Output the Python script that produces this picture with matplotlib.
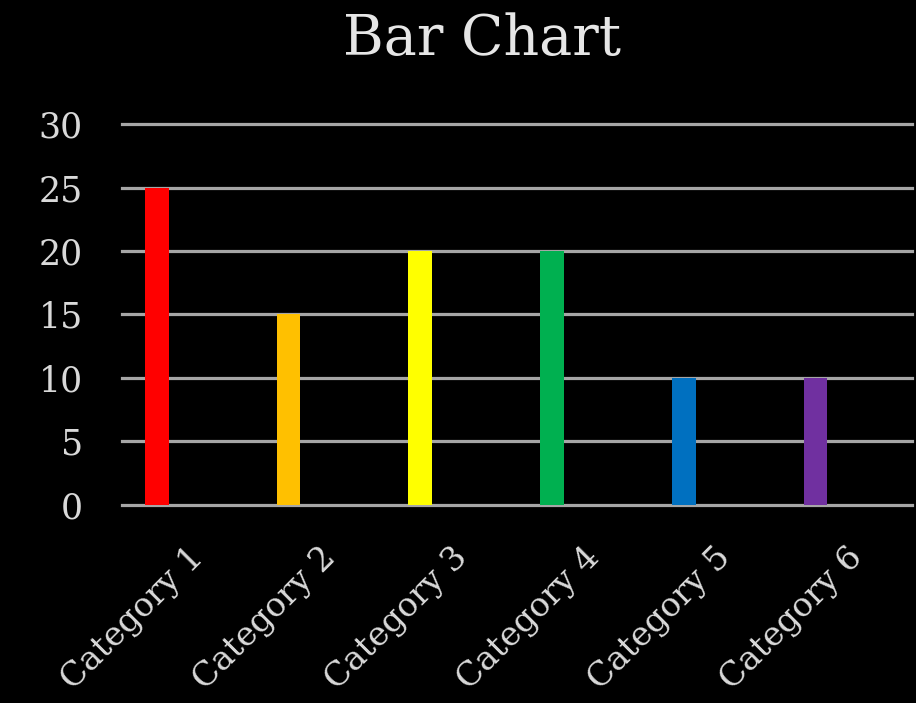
import matplotlib.pyplot as plt
import numpy as np

categorias = ["Category 1", "Category 2", "Category 3", "Category 4", "Category 5", "Category 6"]
valores = [25, 15, 20, 20, 10, 10]
cores = ["#FF0000", "#FFC000", "#FFFF00", "#00B050", "#0070C0", "#7030A0"]
yticks = [0, 5, 10, 15, 20, 25, 30]


def plotar():
    fig = plt.figure(figsize=(9.16, 7.03), dpi=100, facecolor="black")
    ax = fig.add_axes([0.133, 0.2817, 0.863, 0.5419], facecolor="black")

    x = np.arange(len(categorias))
    ax.set_axisbelow(True)
    ax.bar(x - 0.235, valores, width=0.18, color=cores, zorder=3)

    ax.set_xlim(-0.5, len(categorias) - 0.5)
    ax.set_ylim(0, 30)
    ax.set_yticks(yticks)
    ax.yaxis.grid(True, color="#a6a6a6", linewidth=2.3)
    ax.xaxis.grid(False)
    for linha in ax.get_ygridlines():
        linha.set_clip_on(False)
    for s in ax.spines.values():
        s.set_visible(False)

    ax.set_xticks(x)
    ax.set_xticklabels(categorias, rotation=45, ha="right", rotation_mode="anchor",
                       fontsize=24, color="#d9d9d9", family="DejaVu Serif")
    for lab in ax.get_yticklabels():
        lab.set_fontsize(25)
        lab.set_color("#d9d9d9")
        lab.set_family("DejaVu Serif")
    ax.tick_params(axis="both", length=0)
    ax.tick_params(axis="y", pad=28)
    ax.tick_params(axis="x", pad=26)

    fig.text(0.526, 0.943, "Bar Chart", ha="center", va="center",
             fontsize=40, color="#e6e6e6", family="DejaVu Serif")

    fig.savefig("out.png", dpi=100, facecolor="black")


if __name__ == "__main__":
    plotar()
